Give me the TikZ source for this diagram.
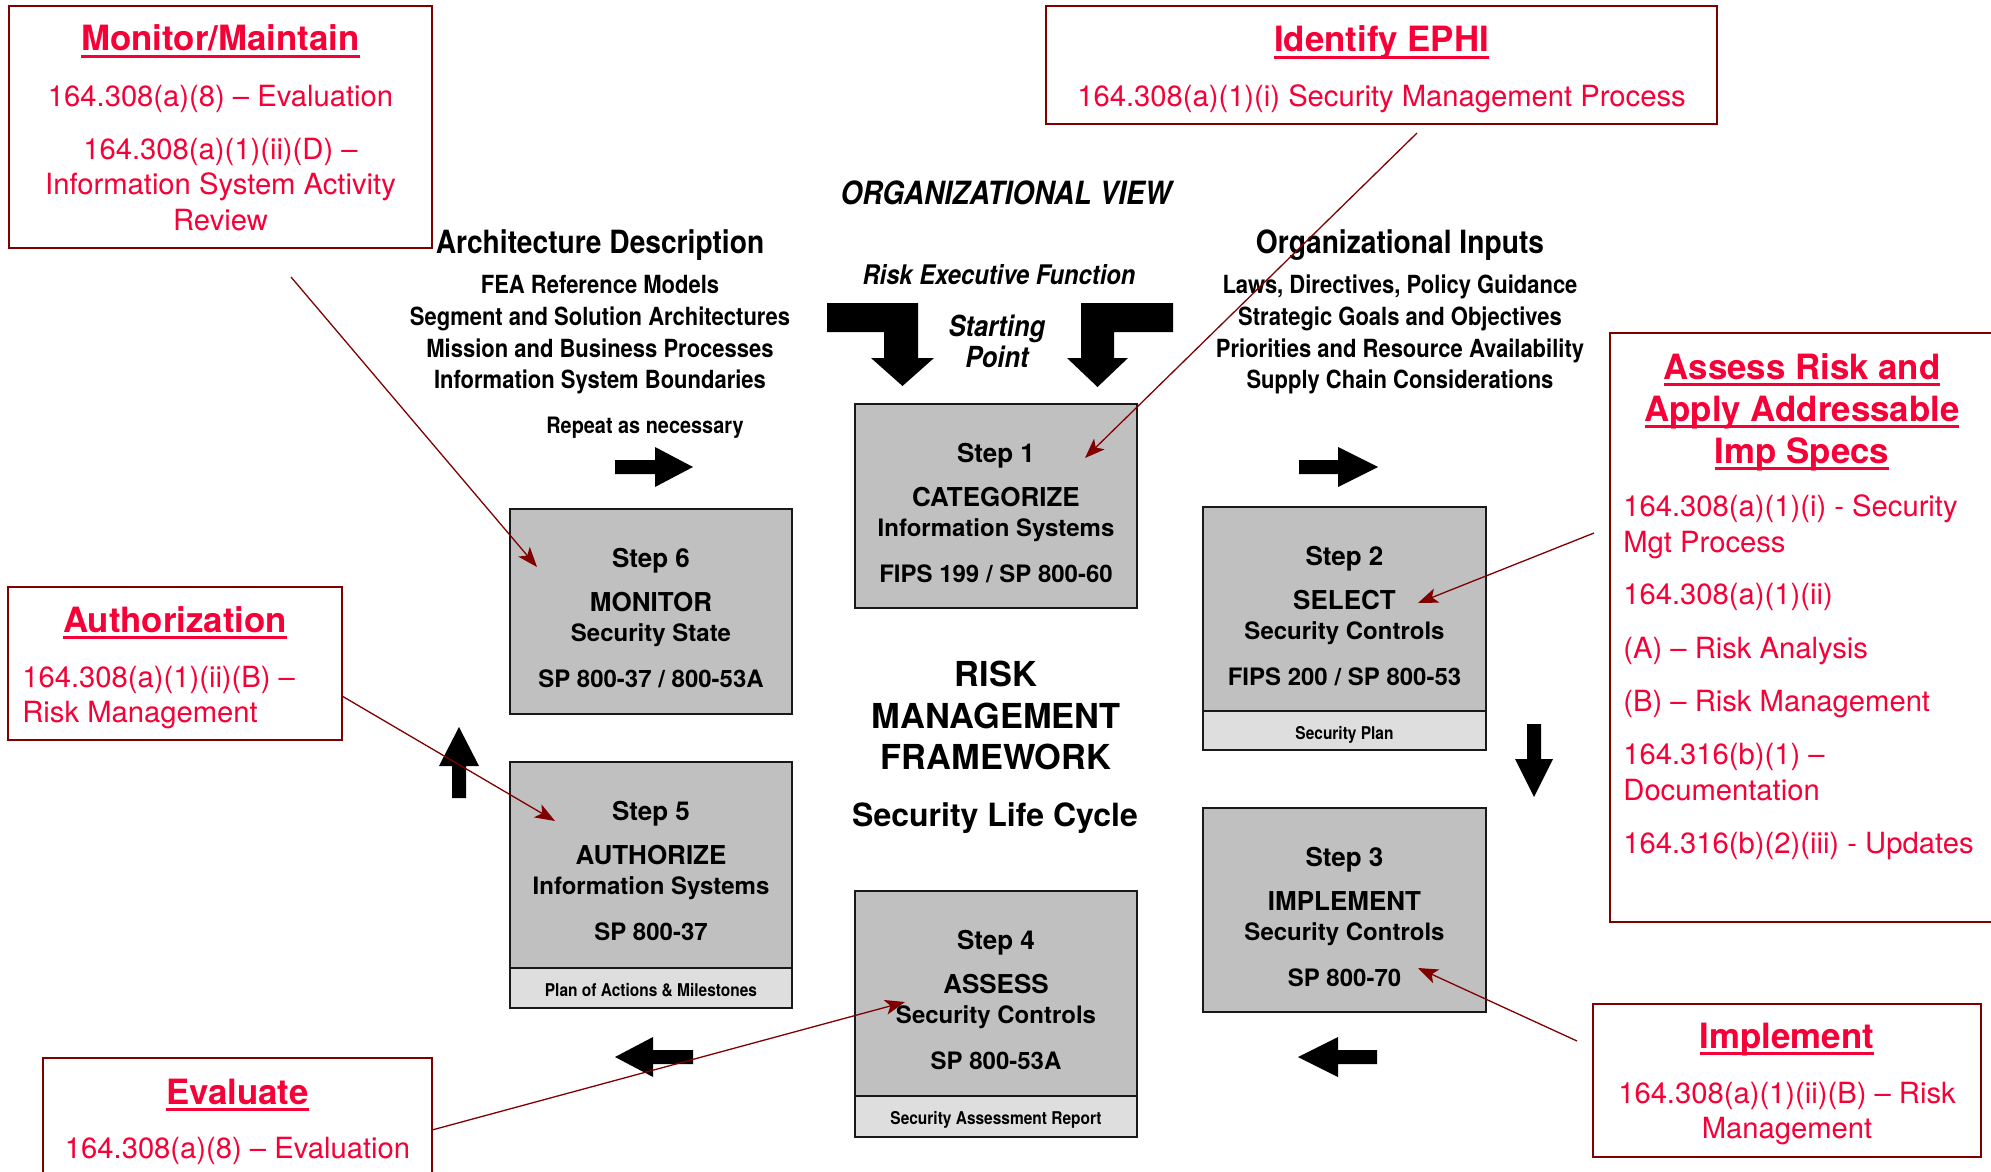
\documentclass[tikz,border=0pt]{standalone}
\usepackage{fontspec}
\setmainfont{TeX Gyre Heros}
\newfontfamily\narrowfont[FakeStretch=0.88]{TeX Gyre Heros}
\usetikzlibrary{arrows.meta,fit,calc}
\definecolor{redtext}{RGB}{245,0,55}
\definecolor{darkred}{RGB}{128,0,0}
\definecolor{stepgray}{RGB}{192,192,192}
\definecolor{bandgray}{RGB}{222,222,222}
\newcommand{\redul}[1]{\setbox0=\hbox{#1}\rlap{\rule[-0.19em]{\wd0}{0.085em}}\box0}
\tikzset{
  redbox/.style={draw=darkred, line width=0.85pt, fill=white, inner sep=0pt},
  stepbox/.style={draw=black!90, line width=0.8pt, fill=stepgray, inner sep=0pt},
  bandbox/.style={draw=black!90, line width=0.8pt, fill=bandgray, inner sep=0pt},
  rtitle/.style={anchor=base, text=redtext, inner sep=0pt, font=\fontsize{17.4}{20}\selectfont\bfseries},
  rbody/.style={anchor=base, text=redtext, inner sep=0pt, font=\fontsize{14.6}{17.5}\selectfont},
  rbodyl/.style={rbody, anchor=base west},
  sbig/.style={anchor=base, inner sep=0pt, font=\fontsize{13}{15}\selectfont\bfseries},
  ssmall/.style={anchor=base, inner sep=0pt, font=\fontsize{12}{14}\selectfont\bfseries},
  sband/.style={anchor=base, inner sep=0pt, font=\narrowfont\fontsize{8.8}{10}\selectfont\bfseries},
  nhead/.style={anchor=base, inner sep=0pt, font=\narrowfont\fontsize{16}{18}\selectfont\bfseries},
  nlist/.style={anchor=base, inner sep=0pt, font=\narrowfont\fontsize{12.5}{15}\selectfont\bfseries},
  nsmall/.style={anchor=base, inner sep=0pt, font=\narrowfont\fontsize{11.3}{13}\selectfont\bfseries},
  nital/.style={anchor=base, inner sep=0pt, font=\narrowfont\fontsize{13.5}{16}\selectfont\bfseries\itshape},
  nitalbig/.style={anchor=base, inner sep=0pt, font=\narrowfont\fontsize{16}{18}\selectfont\bfseries\itshape},
  nstart/.style={anchor=base, inner sep=0pt, font=\narrowfont\fontsize{14.5}{17}\selectfont\bfseries\itshape},
  rmf/.style={anchor=base, inner sep=0pt, font=\fontsize{17.2}{21}\selectfont\bfseries},
  slc/.style={anchor=base, inner sep=0pt, font=\fontsize{16}{19}\selectfont\bfseries},
  leader/.style={draw=darkred, line width=0.65pt, -{Stealth[length=10pt,width=7.5pt,inset=2.5pt]}},
  blockarrow/.style={fill=black},
}
\begin{document}
\begin{tikzpicture}[x=0.5pt,y=-0.5pt]
\useasboundingbox (0,0) rectangle (1991,1172);
\clip (0,0) rectangle (1991,1172);
\fill[white] (0,0) rectangle (1991,1172);

% ---------- black labels ----------
\node (orgview) [nitalbig] at (1006,204) {ORGANIZATIONAL VIEW};
\node (archT) [nhead] at (600,253) {Architecture Description};
\node (arch1) [nlist] at (600,293) {FEA Reference Models};
\node (arch2) [nlist] at (600,325) {Segment and Solution Architectures};
\node (arch3) [nlist] at (600,357) {Mission and Business Processes};
\node (arch4) [nlist] at (600,388) {Information System Boundaries};
\node (orgT) [nhead] at (1400,253) {Organizational Inputs};
\node (org1) [nlist] at (1400,293) {Laws, Directives, Policy Guidance};
\node (org2) [nlist] at (1400,325) {Strategic Goals and Objectives};
\node (org3) [nlist] at (1400,357) {Priorities and Resource Availability};
\node (org4) [nlist] at (1400,388) {Supply Chain Considerations};
\node (repeat) [nsmall] at (645,433) {Repeat as necessary};
\node (ref) [nital] at (999,284) {Risk Executive Function};
\node (start1) [nstart] at (997,336) {Starting};
\node (start2) [nstart] at (997,367) {Point};
\node (rmf1) [rmf] at (996,686) {RISK};
\node (rmf2) [rmf] at (996,728) {MANAGEMENT};
\node (rmf3) [rmf] at (996,769) {FRAMEWORK};
\node (slc) [slc] at (995,826) {Security Life Cycle};

% ---------- block arrows ----------
\fill[blockarrow] (827,303)--(918,303)--(918,358)--(934,358)--(902.5,386)--(871,358)--(884,358)--(884,332)--(827,332)--cycle;
\fill[blockarrow] (1173,303)--(1081,303)--(1081,358)--(1067,358)--(1097.5,387)--(1128,358)--(1114,358)--(1114,332)--(1173,332)--cycle;
\fill[blockarrow] (615,460)--(655,460)--(655,447)--(693,467)--(655,487)--(655,474)--(615,474)--cycle;
\fill[blockarrow] (1299,460)--(1338,460)--(1338,447)--(1378,467)--(1338,487)--(1338,474)--(1299,474)--cycle;
\fill[blockarrow] (1527,724)--(1541,724)--(1541,759)--(1553,759)--(1534,797)--(1515,759)--(1527,759)--cycle;
\fill[blockarrow] (1377,1050)--(1338,1050)--(1338,1037)--(1298,1057)--(1338,1077)--(1338,1064)--(1377,1064)--cycle;
\fill[blockarrow] (693,1050)--(653,1050)--(653,1037)--(615,1057)--(653,1077)--(653,1064)--(693,1064)--cycle;
\fill[blockarrow] (452,798)--(452,766)--(439,766)--(459,727)--(479,766)--(466,766)--(466,798)--cycle;

% ---------- step boxes ----------
\node (s1) [stepbox, fit={(855,404) (1137,608)}] {};
\node (s1a) [sbig] at (996,462) {Step 1};
\node (s1b) [sbig] at (996,506) {CATEGORIZE};
\node (s1c) [ssmall] at (996,536) {Information Systems};
\node (s1d) [ssmall] at (996,582) {FIPS 199 / SP 800-60};

\node (s2) [stepbox, fit={(1203,507) (1486,711)}] {};
\node (s2band) [bandbox, fit={(1203,711) (1486,750)}] {};
\node (s2a) [sbig] at (1344.5,565) {Step 2};
\node (s2b) [sbig] at (1344.5,609) {SELECT};
\node (s2c) [ssmall] at (1344.5,639) {Security Controls};
\node (s2d) [ssmall] at (1344.5,685) {FIPS 200 / SP 800-53};
\node (s2e) [sband] at (1344.5,739) {Security Plan};

\node (s3) [stepbox, fit={(1203,808) (1486,1012)}] {};
\node (s3a) [sbig] at (1344.5,866) {Step 3};
\node (s3b) [sbig] at (1344.5,910) {IMPLEMENT};
\node (s3c) [ssmall] at (1344.5,940) {Security Controls};
\node (s3d) [ssmall] at (1344.5,986) {SP 800-70};

\node (s4) [stepbox, fit={(855,891) (1137,1096)}] {};
\node (s4band) [bandbox, fit={(855,1096) (1137,1137)}] {};
\node (s4a) [sbig] at (996,949) {Step 4};
\node (s4b) [sbig] at (996,993) {ASSESS};
\node (s4c) [ssmall] at (996,1023) {Security Controls};
\node (s4d) [ssmall] at (996,1069) {SP 800-53A};
\node (s4e) [sband] at (996,1124) {Security Assessment Report};

\node (s5) [stepbox, fit={(510,762) (792,968)}] {};
\node (s5band) [bandbox, fit={(510,968) (792,1008)}] {};
\node (s5a) [sbig] at (651,820) {Step 5};
\node (s5b) [sbig] at (651,864) {AUTHORIZE};
\node (s5c) [ssmall] at (651,894) {Information Systems};
\node (s5d) [ssmall] at (651,940) {SP 800-37};
\node (s5e) [sband] at (651,996) {Plan of Actions \& Milestones};

\node (s6) [stepbox, fit={(510,509) (792,714)}] {};
\node (s6a) [sbig] at (651,567) {Step 6};
\node (s6b) [sbig] at (651,611) {MONITOR};
\node (s6c) [ssmall] at (651,641) {Security State};
\node (s6d) [ssmall] at (651,687) {SP 800-37 / 800-53A};

% ---------- red boxes ----------
\node (mon) [redbox, fit={(9,6) (432,248)}] {};
\node (monT) [rtitle] at (220.5,51) {\redul{Monitor/Maintain}};
\node (monB1) [rbody] at (220.5,106) {164.308(a)(8) – Evaluation};
\node (monB2) [rbody] at (220.5,159) {164.308(a)(1)(ii)(D) –};
\node (monB3) [rbody] at (220.5,194.5) {Information System Activity};
\node (monB4) [rbody] at (220.5,230) {Review};

\node (eph) [redbox, fit={(1046,6) (1717,124)}] {};
\node (ephT) [rtitle] at (1381.5,52) {\redul{Identify EPHI}};
\node (ephB) [rbody] at (1381.5,106) {164.308(a)(1)(i) Security Management Process};

\node (ass) [redbox, fit={(1610,333) (2000,922)}] {};
\node (assT1) [rtitle] at (1802,379) {\redul{Assess Risk and}};
\node (assT2) [rtitle] at (1802,421) {\redul{Apply Addressable}};
\node (assT3) [rtitle] at (1802,463) {\redul{Imp Specs}};
\node (assB1) [rbodyl] at (1623,516) {164.308(a)(1)(i) - Security};
\node (assB2) [rbodyl] at (1623,552) {Mgt Process};
\node (assB3) [rbodyl] at (1623,604) {164.308(a)(1)(ii)};
\node (assB4) [rbodyl] at (1623,658) {(A) – Risk Analysis};
\node (assB5) [rbodyl] at (1623,711) {(B) – Risk Management};
\node (assB6) [rbodyl] at (1623,764) {164.316(b)(1) –};
\node (assB7) [rbodyl] at (1623,800) {Documentation};
\node (assB8) [rbodyl] at (1623,853) {164.316(b)(2)(iii) - Updates};

\node (aut) [redbox, fit={(8,587) (342,740)}] {};
\node (autT) [rtitle] at (175,632) {\redul{Authorization}};
\node (autB1) [rbodyl] at (22,687) {164.308(a)(1)(ii)(B) –};
\node (autB2) [rbodyl] at (22,722) {Risk Management};

\node (eva) [redbox, fit={(43,1058) (432,1195)}] {};
\node (evaT) [rtitle] at (237.5,1104) {\redul{Evaluate}};
\node (evaB) [rbody] at (237.5,1158) {164.308(a)(8) – Evaluation};

\node (imp) [redbox, fit={(1593,1004) (1981,1157)}] {};
\node (impT) [rtitle] at (1787,1048) {\redul{Implement}};
\node (impB1) [rbody] at (1787,1103) {164.308(a)(1)(ii)(B) – Risk};
\node (impB2) [rbody] at (1787,1138) {Management};

% ---------- leader lines ----------
\coordinate (l1s) at (291,277);   \coordinate (l1e) at (537,567);
\coordinate (l2s) at (1417,133);  \coordinate (l2e) at (1085,458);
\coordinate (l3s) at (1594,533);  \coordinate (l3e) at (1418,603);
\coordinate (l4s) at (342,696);   \coordinate (l4e) at (555,821);
\coordinate (l5s) at (1577,1041); \coordinate (l5e) at (1418,968);
\coordinate (l6s) at (432,1130);  \coordinate (l6e) at (905,1002);
\draw[leader] (l1s) -- (l1e);
\draw[leader] (l2s) -- (l2e);
\draw[leader] (l3s) -- (l3e);
\draw[leader] (l4s) -- (l4e);
\draw[leader] (l5s) -- (l5e);
\draw[leader] (l6s) -- (l6e);
\end{tikzpicture}
\end{document}
